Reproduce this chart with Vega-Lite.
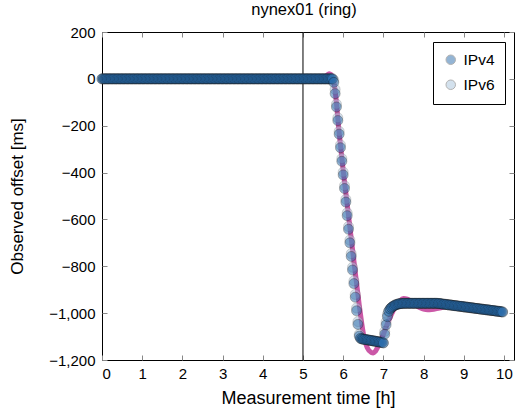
{
"$schema":"https://vega.github.io/schema/vega-lite/v6.json",
"width":412,"height":328,
"autosize":{"type":"none"},
"padding":{"left":102,"top":32,"right":1,"bottom":52},
"background":"white",
"title":{"text":"nynex01 (ring)","fontSize":16.5,"fontWeight":"normal","color":"black","offset":7,"dx":-4},
"datasets":{
"model":[{"t":0,"v":0},{"t":5.4,"v":0},{"t":5.5,"v":3},{"t":5.6,"v":16},{"t":5.65,"v":22},{"t":5.7,"v":18},{"t":5.75,"v":0},{"t":5.8,"v":-50},{"t":5.9,"v":-230},{"t":6.0,"v":-390},{"t":6.1,"v":-535},{"t":6.2,"v":-680},{"t":6.3,"v":-825},{"t":6.4,"v":-965},{"t":6.5,"v":-1085},{"t":6.6,"v":-1148},{"t":6.7,"v":-1168},{"t":6.75,"v":-1170},{"t":6.8,"v":-1163},{"t":6.9,"v":-1130},{"t":7.0,"v":-1090},{"t":7.1,"v":-1045},{"t":7.2,"v":-1005},{"t":7.3,"v":-972},{"t":7.4,"v":-950},{"t":7.5,"v":-938},{"t":7.6,"v":-940},{"t":7.7,"v":-952},{"t":7.8,"v":-966},{"t":7.9,"v":-976},{"t":8.0,"v":-983},{"t":8.1,"v":-986},{"t":8.2,"v":-985},{"t":8.4,"v":-978},{"t":8.7,"v":-970},{"t":9.0,"v":-972},{"t":9.5,"v":-982},{"t":10.0,"v":-996}],
"ipv6":[
{"t":0,"v":0},{"t":0.033,"v":0},{"t":0.067,"v":0},{"t":0.1,"v":0},{"t":0.133,"v":0},{"t":0.167,"v":0},{"t":0.2,"v":0},{"t":0.233,"v":0},{"t":0.267,"v":0},{"t":0.3,"v":0},{"t":0.333,"v":0},{"t":0.367,"v":0},{"t":0.4,"v":0},{"t":0.433,"v":0},{"t":0.467,"v":0},{"t":0.5,"v":0},{"t":0.533,"v":0},{"t":0.567,"v":0},{"t":0.6,"v":0},{"t":0.633,"v":0},{"t":0.667,"v":0},{"t":0.7,"v":0},{"t":0.733,"v":0},{"t":0.767,"v":0},{"t":0.8,"v":0},{"t":0.833,"v":0},{"t":0.867,"v":0},{"t":0.9,"v":0},{"t":0.933,"v":0},{"t":0.967,"v":0},
{"t":1,"v":0},{"t":1.033,"v":0},{"t":1.067,"v":0},{"t":1.1,"v":0},{"t":1.133,"v":0},{"t":1.167,"v":0},{"t":1.2,"v":0},{"t":1.233,"v":0},{"t":1.267,"v":0},{"t":1.3,"v":0},{"t":1.333,"v":0},{"t":1.367,"v":0},{"t":1.4,"v":0},{"t":1.433,"v":0},{"t":1.467,"v":0},{"t":1.5,"v":0},{"t":1.533,"v":0},{"t":1.567,"v":0},{"t":1.6,"v":0},{"t":1.633,"v":0},{"t":1.667,"v":0},{"t":1.7,"v":0},{"t":1.733,"v":0},{"t":1.767,"v":0},{"t":1.8,"v":0},{"t":1.833,"v":0},{"t":1.867,"v":0},{"t":1.9,"v":0},{"t":1.933,"v":0},{"t":1.967,"v":0},
{"t":2,"v":0},{"t":2.033,"v":0},{"t":2.067,"v":0},{"t":2.1,"v":0},{"t":2.133,"v":0},{"t":2.167,"v":0},{"t":2.2,"v":0},{"t":2.233,"v":0},{"t":2.267,"v":0},{"t":2.3,"v":0},{"t":2.333,"v":0},{"t":2.367,"v":0},{"t":2.4,"v":0},{"t":2.433,"v":0},{"t":2.467,"v":0},{"t":2.5,"v":0},{"t":2.533,"v":0},{"t":2.567,"v":0},{"t":2.6,"v":0},{"t":2.633,"v":0},{"t":2.667,"v":0},{"t":2.7,"v":0},{"t":2.733,"v":0},{"t":2.767,"v":0},{"t":2.8,"v":0},{"t":2.833,"v":0},{"t":2.867,"v":0},{"t":2.9,"v":0},{"t":2.933,"v":0},{"t":2.967,"v":0},
{"t":3,"v":0},{"t":3.033,"v":0},{"t":3.067,"v":0},{"t":3.1,"v":0},{"t":3.133,"v":0},{"t":3.167,"v":0},{"t":3.2,"v":0},{"t":3.233,"v":0},{"t":3.267,"v":0},{"t":3.3,"v":0},{"t":3.333,"v":0},{"t":3.367,"v":0},{"t":3.4,"v":0},{"t":3.433,"v":0},{"t":3.467,"v":0},{"t":3.5,"v":0},{"t":3.533,"v":0},{"t":3.567,"v":0},{"t":3.6,"v":0},{"t":3.633,"v":0},{"t":3.667,"v":0},{"t":3.7,"v":0},{"t":3.733,"v":0},{"t":3.767,"v":0},{"t":3.8,"v":0},{"t":3.833,"v":0},{"t":3.867,"v":0},{"t":3.9,"v":0},{"t":3.933,"v":0},{"t":3.967,"v":0},
{"t":4,"v":0},{"t":4.033,"v":0},{"t":4.067,"v":0},{"t":4.1,"v":0},{"t":4.133,"v":0},{"t":4.167,"v":0},{"t":4.2,"v":0},{"t":4.233,"v":0},{"t":4.267,"v":0},{"t":4.3,"v":0},{"t":4.333,"v":0},{"t":4.367,"v":0},{"t":4.4,"v":0},{"t":4.433,"v":0},{"t":4.467,"v":0},{"t":4.5,"v":0},{"t":4.533,"v":0},{"t":4.567,"v":0},{"t":4.6,"v":0},{"t":4.633,"v":0},{"t":4.667,"v":0},{"t":4.7,"v":0},{"t":4.733,"v":0},{"t":4.767,"v":0},{"t":4.8,"v":0},{"t":4.833,"v":0},{"t":4.867,"v":0},{"t":4.9,"v":0},{"t":4.933,"v":0},{"t":4.967,"v":0},
{"t":5,"v":0},{"t":5.033,"v":0},{"t":5.067,"v":0},{"t":5.1,"v":0},{"t":5.133,"v":0},{"t":5.167,"v":0},{"t":5.2,"v":0},{"t":5.233,"v":0},{"t":5.267,"v":0},{"t":5.3,"v":0},{"t":5.333,"v":0},{"t":5.367,"v":0},{"t":5.4,"v":0},{"t":5.433,"v":0},{"t":5.467,"v":0},{"t":5.5,"v":0},{"t":5.533,"v":0},{"t":5.567,"v":0},{"t":5.6,"v":0},{"t":5.633,"v":0},{"t":5.667,"v":0},{"t":5.7,"v":0},{"t":5.733,"v":0},{"t":5.767,"v":-5},{"t":5.8,"v":-45},{"t":5.833,"v":-108},{"t":5.867,"v":-166},{"t":5.9,"v":-224},{"t":5.933,"v":-282},{"t":5.967,"v":-340},
{"t":6,"v":-398},{"t":6.033,"v":-456},{"t":6.067,"v":-514},{"t":6.1,"v":-572},{"t":6.133,"v":-630},{"t":6.167,"v":-688},{"t":6.2,"v":-746},{"t":6.233,"v":-804},{"t":6.267,"v":-862},{"t":6.3,"v":-920},{"t":6.333,"v":-978},{"t":6.367,"v":-1036},{"t":6.4,"v":-1090},{"t":6.433,"v":-1108},{"t":6.467,"v":-1110},{"t":6.5,"v":-1111},{"t":6.533,"v":-1112},{"t":6.567,"v":-1113},{"t":6.6,"v":-1114},{"t":6.633,"v":-1115},{"t":6.667,"v":-1116},{"t":6.7,"v":-1117},{"t":6.733,"v":-1118},{"t":6.767,"v":-1119},{"t":6.8,"v":-1120},{"t":6.833,"v":-1121},{"t":6.867,"v":-1122},{"t":6.9,"v":-1123},{"t":6.933,"v":-1124},{"t":6.967,"v":-1125},
{"t":7,"v":-1127},{"t":7.033,"v":-1078},{"t":7.067,"v":-1038},{"t":7.1,"v":-1005},{"t":7.133,"v":-992},{"t":7.167,"v":-982},{"t":7.2,"v":-976},{"t":7.233,"v":-972},{"t":7.267,"v":-968},{"t":7.3,"v":-965},{"t":7.333,"v":-963},{"t":7.367,"v":-961},{"t":7.4,"v":-960},{"t":7.433,"v":-959},{"t":7.467,"v":-959},{"t":7.5,"v":-958},{"t":7.533,"v":-958},{"t":7.567,"v":-958},{"t":7.6,"v":-958},{"t":7.633,"v":-958},{"t":7.667,"v":-958},{"t":7.7,"v":-958},{"t":7.733,"v":-958},{"t":7.767,"v":-958},{"t":7.8,"v":-958},{"t":7.833,"v":-958},{"t":7.867,"v":-958},{"t":7.9,"v":-958},{"t":7.933,"v":-958},{"t":7.967,"v":-958},
{"t":8,"v":-958},{"t":8.033,"v":-958},{"t":8.067,"v":-958},{"t":8.1,"v":-958},{"t":8.133,"v":-958},{"t":8.167,"v":-958},{"t":8.2,"v":-958},{"t":8.233,"v":-958},{"t":8.267,"v":-958},{"t":8.3,"v":-958},{"t":8.333,"v":-958},{"t":8.367,"v":-959},{"t":8.4,"v":-959},{"t":8.433,"v":-960},{"t":8.467,"v":-961},{"t":8.5,"v":-962},{"t":8.533,"v":-962},{"t":8.567,"v":-963},{"t":8.6,"v":-964},{"t":8.633,"v":-965},{"t":8.667,"v":-965},{"t":8.7,"v":-966},{"t":8.733,"v":-967},{"t":8.767,"v":-968},{"t":8.8,"v":-968},{"t":8.833,"v":-969},{"t":8.867,"v":-970},{"t":8.9,"v":-971},{"t":8.933,"v":-971},{"t":8.967,"v":-972},
{"t":9,"v":-973},{"t":9.033,"v":-974},{"t":9.067,"v":-974},{"t":9.1,"v":-975},{"t":9.133,"v":-976},{"t":9.167,"v":-977},{"t":9.2,"v":-977},{"t":9.233,"v":-978},{"t":9.267,"v":-979},{"t":9.3,"v":-980},{"t":9.333,"v":-980},{"t":9.367,"v":-981},{"t":9.4,"v":-982},{"t":9.433,"v":-983},{"t":9.467,"v":-983},{"t":9.5,"v":-984},{"t":9.533,"v":-985},{"t":9.567,"v":-986},{"t":9.6,"v":-986},{"t":9.633,"v":-987},{"t":9.667,"v":-988},{"t":9.7,"v":-989},{"t":9.733,"v":-989},{"t":9.767,"v":-990},{"t":9.8,"v":-991},{"t":9.833,"v":-992},{"t":9.867,"v":-992},{"t":9.9,"v":-993},{"t":9.933,"v":-994},{"t":9.967,"v":-995}
],
"ipv4":[
{"t":0,"v":0},{"t":0.033,"v":0},{"t":0.067,"v":0},{"t":0.1,"v":0},{"t":0.133,"v":0},{"t":0.167,"v":0},{"t":0.2,"v":0},{"t":0.233,"v":0},{"t":0.267,"v":0},{"t":0.3,"v":0},{"t":0.333,"v":0},{"t":0.367,"v":0},{"t":0.4,"v":0},{"t":0.433,"v":0},{"t":0.467,"v":0},{"t":0.5,"v":0},{"t":0.533,"v":0},{"t":0.567,"v":0},{"t":0.6,"v":0},{"t":0.633,"v":0},{"t":0.667,"v":0},{"t":0.7,"v":0},{"t":0.733,"v":0},{"t":0.767,"v":0},{"t":0.8,"v":0},{"t":0.833,"v":0},{"t":0.867,"v":0},{"t":0.9,"v":0},{"t":0.933,"v":0},{"t":0.967,"v":0},
{"t":1,"v":0},{"t":1.033,"v":0},{"t":1.067,"v":0},{"t":1.1,"v":0},{"t":1.133,"v":0},{"t":1.167,"v":0},{"t":1.2,"v":0},{"t":1.233,"v":0},{"t":1.267,"v":0},{"t":1.3,"v":0},{"t":1.333,"v":0},{"t":1.367,"v":0},{"t":1.4,"v":0},{"t":1.433,"v":0},{"t":1.467,"v":0},{"t":1.5,"v":0},{"t":1.533,"v":0},{"t":1.567,"v":0},{"t":1.6,"v":0},{"t":1.633,"v":0},{"t":1.667,"v":0},{"t":1.7,"v":0},{"t":1.733,"v":0},{"t":1.767,"v":0},{"t":1.8,"v":0},{"t":1.833,"v":0},{"t":1.867,"v":0},{"t":1.9,"v":0},{"t":1.933,"v":0},{"t":1.967,"v":0},
{"t":2,"v":0},{"t":2.033,"v":0},{"t":2.067,"v":0},{"t":2.1,"v":0},{"t":2.133,"v":0},{"t":2.167,"v":0},{"t":2.2,"v":0},{"t":2.233,"v":0},{"t":2.267,"v":0},{"t":2.3,"v":0},{"t":2.333,"v":0},{"t":2.367,"v":0},{"t":2.4,"v":0},{"t":2.433,"v":0},{"t":2.467,"v":0},{"t":2.5,"v":0},{"t":2.533,"v":0},{"t":2.567,"v":0},{"t":2.6,"v":0},{"t":2.633,"v":0},{"t":2.667,"v":0},{"t":2.7,"v":0},{"t":2.733,"v":0},{"t":2.767,"v":0},{"t":2.8,"v":0},{"t":2.833,"v":0},{"t":2.867,"v":0},{"t":2.9,"v":0},{"t":2.933,"v":0},{"t":2.967,"v":0},
{"t":3,"v":0},{"t":3.033,"v":0},{"t":3.067,"v":0},{"t":3.1,"v":0},{"t":3.133,"v":0},{"t":3.167,"v":0},{"t":3.2,"v":0},{"t":3.233,"v":0},{"t":3.267,"v":0},{"t":3.3,"v":0},{"t":3.333,"v":0},{"t":3.367,"v":0},{"t":3.4,"v":0},{"t":3.433,"v":0},{"t":3.467,"v":0},{"t":3.5,"v":0},{"t":3.533,"v":0},{"t":3.567,"v":0},{"t":3.6,"v":0},{"t":3.633,"v":0},{"t":3.667,"v":0},{"t":3.7,"v":0},{"t":3.733,"v":0},{"t":3.767,"v":0},{"t":3.8,"v":0},{"t":3.833,"v":0},{"t":3.867,"v":0},{"t":3.9,"v":0},{"t":3.933,"v":0},{"t":3.967,"v":0},
{"t":4,"v":0},{"t":4.033,"v":0},{"t":4.067,"v":0},{"t":4.1,"v":0},{"t":4.133,"v":0},{"t":4.167,"v":0},{"t":4.2,"v":0},{"t":4.233,"v":0},{"t":4.267,"v":0},{"t":4.3,"v":0},{"t":4.333,"v":0},{"t":4.367,"v":0},{"t":4.4,"v":0},{"t":4.433,"v":0},{"t":4.467,"v":0},{"t":4.5,"v":0},{"t":4.533,"v":0},{"t":4.567,"v":0},{"t":4.6,"v":0},{"t":4.633,"v":0},{"t":4.667,"v":0},{"t":4.7,"v":0},{"t":4.733,"v":0},{"t":4.767,"v":0},{"t":4.8,"v":0},{"t":4.833,"v":0},{"t":4.867,"v":0},{"t":4.9,"v":0},{"t":4.933,"v":0},{"t":4.967,"v":0},
{"t":5,"v":0},{"t":5.033,"v":0},{"t":5.067,"v":0},{"t":5.1,"v":0},{"t":5.133,"v":0},{"t":5.167,"v":0},{"t":5.2,"v":0},{"t":5.233,"v":0},{"t":5.267,"v":0},{"t":5.3,"v":0},{"t":5.333,"v":0},{"t":5.367,"v":0},{"t":5.4,"v":0},{"t":5.433,"v":0},{"t":5.467,"v":0},{"t":5.5,"v":0},{"t":5.533,"v":0},{"t":5.567,"v":0},{"t":5.6,"v":0},{"t":5.633,"v":0},{"t":5.667,"v":0},{"t":5.7,"v":0},{"t":5.733,"v":0},{"t":5.767,"v":-15},{"t":5.8,"v":-63},{"t":5.833,"v":-120},{"t":5.867,"v":-178},{"t":5.9,"v":-236},{"t":5.933,"v":-294},{"t":5.967,"v":-352},
{"t":6,"v":-410},{"t":6.033,"v":-468},{"t":6.067,"v":-526},{"t":6.1,"v":-584},{"t":6.133,"v":-642},{"t":6.167,"v":-700},{"t":6.2,"v":-758},{"t":6.233,"v":-816},{"t":6.267,"v":-874},{"t":6.3,"v":-932},{"t":6.333,"v":-990},{"t":6.367,"v":-1048},{"t":6.4,"v":-1098},{"t":6.433,"v":-1108},{"t":6.467,"v":-1110},{"t":6.5,"v":-1111},{"t":6.533,"v":-1112},{"t":6.567,"v":-1113},{"t":6.6,"v":-1114},{"t":6.633,"v":-1115},{"t":6.667,"v":-1116},{"t":6.7,"v":-1117},{"t":6.733,"v":-1118},{"t":6.767,"v":-1119},{"t":6.8,"v":-1120},{"t":6.833,"v":-1121},{"t":6.867,"v":-1122},{"t":6.9,"v":-1123},{"t":6.933,"v":-1124},{"t":6.967,"v":-1125},
{"t":7,"v":-1127},{"t":7.033,"v":-1090},{"t":7.067,"v":-1050},{"t":7.1,"v":-1015},{"t":7.133,"v":-992},{"t":7.167,"v":-982},{"t":7.2,"v":-976},{"t":7.233,"v":-972},{"t":7.267,"v":-968},{"t":7.3,"v":-965},{"t":7.333,"v":-963},{"t":7.367,"v":-961},{"t":7.4,"v":-960},{"t":7.433,"v":-959},{"t":7.467,"v":-959},{"t":7.5,"v":-958},{"t":7.533,"v":-958},{"t":7.567,"v":-958},{"t":7.6,"v":-958},{"t":7.633,"v":-958},{"t":7.667,"v":-958},{"t":7.7,"v":-958},{"t":7.733,"v":-958},{"t":7.767,"v":-958},{"t":7.8,"v":-958},{"t":7.833,"v":-958},{"t":7.867,"v":-958},{"t":7.9,"v":-958},{"t":7.933,"v":-958},{"t":7.967,"v":-958},
{"t":8,"v":-958},{"t":8.033,"v":-958},{"t":8.067,"v":-958},{"t":8.1,"v":-958},{"t":8.133,"v":-958},{"t":8.167,"v":-958},{"t":8.2,"v":-958},{"t":8.233,"v":-958},{"t":8.267,"v":-958},{"t":8.3,"v":-958},{"t":8.333,"v":-958},{"t":8.367,"v":-959},{"t":8.4,"v":-959},{"t":8.433,"v":-960},{"t":8.467,"v":-961},{"t":8.5,"v":-962},{"t":8.533,"v":-962},{"t":8.567,"v":-963},{"t":8.6,"v":-964},{"t":8.633,"v":-965},{"t":8.667,"v":-965},{"t":8.7,"v":-966},{"t":8.733,"v":-967},{"t":8.767,"v":-968},{"t":8.8,"v":-968},{"t":8.833,"v":-969},{"t":8.867,"v":-970},{"t":8.9,"v":-971},{"t":8.933,"v":-971},{"t":8.967,"v":-972},
{"t":9,"v":-973},{"t":9.033,"v":-974},{"t":9.067,"v":-974},{"t":9.1,"v":-975},{"t":9.133,"v":-976},{"t":9.167,"v":-977},{"t":9.2,"v":-977},{"t":9.233,"v":-978},{"t":9.267,"v":-979},{"t":9.3,"v":-980},{"t":9.333,"v":-980},{"t":9.367,"v":-981},{"t":9.4,"v":-982},{"t":9.433,"v":-983},{"t":9.467,"v":-983},{"t":9.5,"v":-984},{"t":9.533,"v":-985},{"t":9.567,"v":-986},{"t":9.6,"v":-986},{"t":9.633,"v":-987},{"t":9.667,"v":-988},{"t":9.7,"v":-989},{"t":9.733,"v":-989},{"t":9.767,"v":-990},{"t":9.8,"v":-991},{"t":9.833,"v":-992},{"t":9.867,"v":-992},{"t":9.9,"v":-993},{"t":9.933,"v":-994},{"t":9.967,"v":-995}
]
},
"layer":[
{"data":{"values":[{"t":5}]},
 "mark":{"type":"rule","color":"black","strokeWidth":1},
 "encoding":{"x":{"field":"t","type":"quantitative","scale":{"domain":[0,10.25],"nice":false,"zero":false},
   "axis":{"orient":"top","values":[0,1,2,3,4,5,6,7,8,9,10],"labels":false,"title":null}}}},
{"data":{"name":"model"},
 "mark":{"type":"line","color":"#c23b98","strokeWidth":5,"opacity":0.85,"interpolate":"monotone","clip":false},
 "encoding":{"x":{"field":"t","type":"quantitative","axis":null},
   "y":{"field":"v","type":"quantitative","scale":{"domain":[-1200,200],"nice":false,"zero":false},
   "axis":{"orient":"right","values":[-1200,-1000,-800,-600,-400,-200,0,200],"labels":false,"title":null}}}},
{"data":{"name":"ipv6"},
 "mark":{"type":"point","filled":true,"size":100,"opacity":0.5,"stroke":"#666","strokeWidth":0.8,"strokeOpacity":0.7,"clip":false},
 "encoding":{"x":{"field":"t","type":"quantitative","axis":null},
   "y":{"field":"v","type":"quantitative","axis":null},
   "color":{"datum":"IPv6","type":"nominal","scale":{"domain":["IPv4","IPv6"],"range":["#2a6cab","#a9c4dc"]}}}},
{"data":{"name":"ipv4"},
 "mark":{"type":"point","filled":true,"size":100,"opacity":0.52,"stroke":"#000","strokeWidth":0.8,"strokeOpacity":0.7,"clip":false},
 "encoding":{"x":{"field":"t","type":"quantitative",
   "axis":{"orient":"bottom","values":[0,1,2,3,4,5,6,7,8,9,10],"title":"Measurement time [h]","labelPadding":11,"titlePadding":8,"titleFontSize":18}},
   "y":{"field":"v","type":"quantitative",
   "axis":{"orient":"left","values":[-1200,-1000,-800,-600,-400,-200,0,200],"format":",d","title":"Observed offset [ms]","labelPadding":12,"titlePadding":22}},
   "color":{"datum":"IPv4","type":"nominal","legend":{"title":null,"orient":"none","legendX":331,"legendY":10,"strokeColor":"black","fillColor":"white","padding":10,"rowPadding":8,"labelFontSize":15.5,"labelOffset":5,"symbolType":"circle","symbolSize":90,"symbolStrokeColor":"#777","symbolStrokeWidth":1}}}}
],
"resolve":{"axis":{"x":"independent","y":"independent"}},
"config":{
 "font":"Liberation Sans",
 "view":{"stroke":"black","strokeWidth":1},
 "axis":{"grid":false,"domain":false,"tickColor":"#888","tickSize":-5,"tickWidth":1,"labelFontSize":15,"labelColor":"black","titleFontSize":17,"titleFontWeight":"normal","titleColor":"black"},
 "legend":{"labelColor":"black","cornerRadius":0}
}
}
